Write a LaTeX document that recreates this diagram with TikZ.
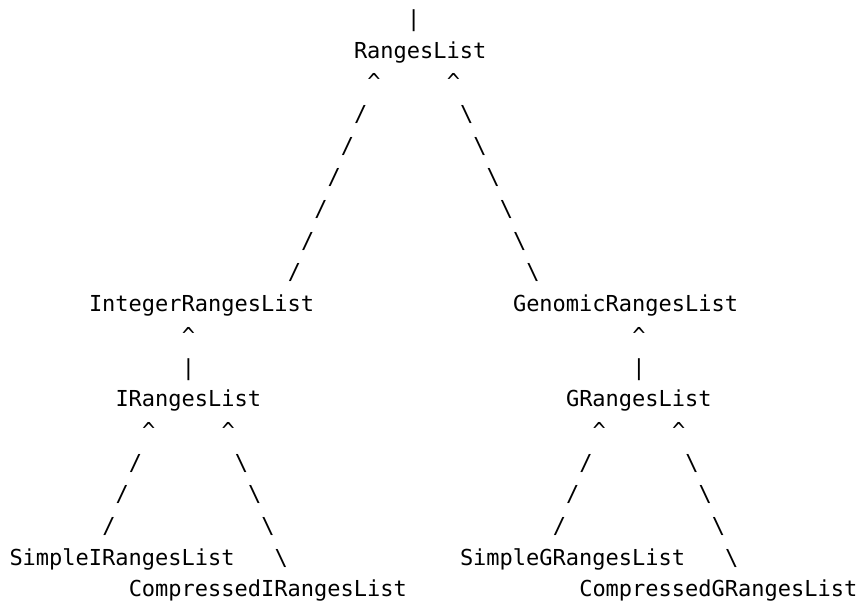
\documentclass[tikz,border=0pt]{standalone}
\usepackage{fontspec}
\newfontfamily\asciimono{DejaVu Sans Mono}
\begin{document}
\begin{tikzpicture}[
  txt/.style={anchor=base west, inner sep=0pt, outer sep=0pt, text=black,
    font=\asciimono\fontsize{22}{26}\selectfont}]
\useasboundingbox (0pt,0pt) rectangle (862pt,-603pt);
\begin{scope}[shift={(9.5pt,-26.3pt)}, x=13.25pt, y=-31.7pt]
  % top
  \node[txt] (topbar) at (30,0) {|};
  \node[txt] (rl) at (26,1) {RangesList};
  \node[txt] (rlcl) at (27,2) {\textasciicircum};
  \node[txt] (rlcr) at (33,2) {\textasciicircum};
  \foreach \i in {0,...,5} {
    \node[txt] (rls\i) at ({26-\i},{3+\i}) {/};
    \node[txt] (rlb\i) at ({34+\i},{3+\i}) {\textbackslash};
  }
  % second level
  \node[txt] (irl) at (6,9) {IntegerRangesList};
  \node[txt] (grl) at (38,9) {GenomicRangesList};
  \node[txt] (irlc) at (13,10) {\textasciicircum};
  \node[txt] (grlc) at (47,10) {\textasciicircum};
  \node[txt] (irlbar) at (13,11) {|};
  \node[txt] (grlbar) at (47,11) {|};
  % third level
  \node[txt] (ir) at (8,12) {IRangesList};
  \node[txt] (gr) at (42,12) {GRangesList};
  \node[txt] (ircl) at (10,13) {\textasciicircum};
  \node[txt] (ircr) at (16,13) {\textasciicircum};
  \node[txt] (grcl) at (44,13) {\textasciicircum};
  \node[txt] (grcr) at (50,13) {\textasciicircum};
  \foreach \i in {0,1,2} {
    \node[txt] (irs\i) at ({9-\i},{14+\i}) {/};
    \node[txt] (irb\i) at ({17+\i},{14+\i}) {\textbackslash};
    \node[txt] (grs\i) at ({43-\i},{14+\i}) {/};
    \node[txt] (grb\i) at ({51+\i},{14+\i}) {\textbackslash};
  }
  % leaves
  \node[txt] (sir) at (0,17) {SimpleIRangesList};
  \node[txt] (irb3) at (20,17) {\textbackslash};
  \node[txt] (sgr) at (34,17) {SimpleGRangesList};
  \node[txt] (grb3) at (54,17) {\textbackslash};
  \node[txt] (cir) at (9,18) {CompressedIRangesList};
  \node[txt] (cgr) at (43,18) {CompressedGRangesList};
\end{scope}
\end{tikzpicture}
\end{document}
